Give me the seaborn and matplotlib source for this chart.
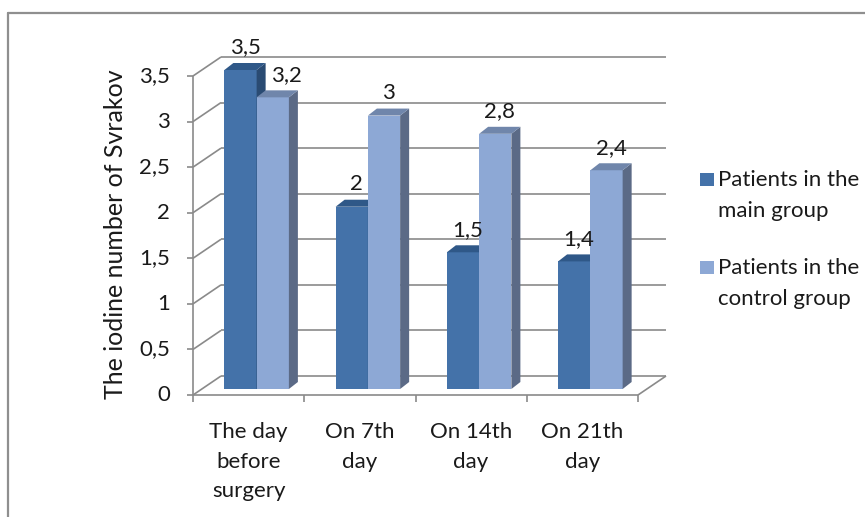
import numpy as np
import pandas as pd
import matplotlib.pyplot as plt
from matplotlib.patches import Polygon, Rectangle
from matplotlib.lines import Line2D
from matplotlib.transforms import IdentityTransform
import seaborn as sns

# Data
days = ['The day\nbefore\nsurgery', 'On 7th\nday', 'On 14th\nday', 'On 21th\nday']
groups = ['Patients in the\nmain group', 'Patients in the\ncontrol group']
main_group = [3.5, 2.0, 1.5, 1.4]
control_group = [3.2, 3.0, 2.8, 2.4]
yticks = [0, 0.5, 1, 1.5, 2, 2.5, 3, 3.5]

df = pd.DataFrame({
    'day': days * 2,
    'group': [groups[0]] * 4 + [groups[1]] * 4,
    'value': main_group + control_group,
})

front_col = ['#4472A9', '#8DA8D5']
side_col = ['#2A4B73', '#5B6A86']
top_col = ['#2F5888', '#7086AB']
grid_col = '#8A8A8A'
txt_col = '#1A1A1A'
fs = 16

sns.set_theme(style='white')
plt.rcParams['font.family'] = ['Lato', 'DejaVu Sans']

W, H = 865, 517
fig = plt.figure(figsize=(W / 100, H / 100), dpi=100)
ax = fig.add_axes([201 / W, 1 - 389 / H, 445 / W, 319 / H])
sns.barplot(data=df, x='day', y='value', hue='group', palette=front_col,
            width=0.58, saturation=1, legend=False, ax=ax, zorder=2)
ax.set_xlim(-0.5, 3.5)
ax.set_ylim(0, 3.5)
ax.axis('off')

ident = IdentityTransform()
front = np.array([-8, -6])   # front plane (axes) relative to bar plane, px
back = np.array([20, 13])    # back wall relative to bar plane, px
depth = np.array([9, 7])     # bar depth, px


def P(x, y, off=(0, 0)):
    return ax.transData.transform((x, y)) + np.asarray(off)


def seg(a, b, **kw):
    kw.setdefault('color', grid_col)
    kw.setdefault('lw', 1.2)
    kw.setdefault('zorder', 0)
    ax.add_line(Line2D([a[0], b[0]], [a[1], b[1]], transform=ident,
                       clip_on=False, solid_capstyle='butt', **kw))


# back wall grid + left wall diagonals
for v in yticks:
    seg(P(-0.5, v, back), P(3.5, v, back))
    seg(P(-0.5, v, front), P(-0.5, v, back))
# floor
seg(P(-0.5, 0, front), P(3.5, 0, front), zorder=4)
seg(P(3.5, 0, front), P(3.5, 0, back), zorder=4)
# front vertical axis
seg(P(-0.5, 0, front), P(-0.5, 3.5, front), zorder=4)

for v in yticks:
    a = P(-0.5, v, front)
    seg(a, a + [-6, 0], zorder=4)
    lab = f'{v:g}'.replace('.', ',')
    fig.text((a[0] - 23) / W, a[1] / H, lab, ha='right', va='center',
             fontsize=fs, color=txt_col)

for i in range(len(days) + 1):
    a = P(i - 0.5, 0, front)
    seg(a, a + [0, -7], zorder=4)

for i, d in enumerate(days):
    a = P(i, 0, front)
    fig.text(a[0] / W, (a[1] - 27) / H, d, ha='center', va='top',
             fontsize=fs, color=txt_col, linespacing=1.6)

# 3D faces on the bars
for k, cont in enumerate(ax.containers):
    for j, bar in enumerate(cont):
        bar.set_zorder(2 + k)
        bar.set_edgecolor('none')
        x0 = bar.get_x()
        x1 = x0 + bar.get_width()
        h = bar.get_height()
        side = [P(x1, 0), P(x1, h), P(x1, h, depth), P(x1, 0, depth)]
        top = [P(x0, h), P(x1, h), P(x1, h, depth), P(x0, h, depth)]
        ax.add_patch(Polygon(side, closed=True, transform=ident,
                             fc=side_col[k], ec='none', zorder=2 + k, clip_on=False))
        ax.add_patch(Polygon(top, closed=True, transform=ident,
                             fc=top_col[k], ec='none', zorder=2 + k, clip_on=False))
        c = P((x0 + x1) / 2, h, depth / 2)
        # control label pushed right when the main bar next to it is taller
        if k == 1 and main_group[j] > h:
            c = c + [9, 0]
        fig.text(c[0] / W, (c[1] + 9) / H, f'{h:g}'.replace('.', ','),
                 ha='center', va='bottom', fontsize=fs, color=txt_col)

fig.text(116 / W, 1 - 234 / H, 'The iodine number of Svrakov', rotation=90,
         ha='center', va='center', fontsize=18, color=txt_col)

# legend
for k, (g, y) in enumerate(zip(groups, [170, 258])):
    fig.patches.append(Rectangle((700 / W, 1 - (y + 16) / H), 14 / W, 13 / H,
                                 transform=fig.transFigure, fc=front_col[k],
                                 ec='none'))
    fig.text(718 / W, 1 - y / H, g, ha='left', va='top', fontsize=fs,
             color=txt_col, linespacing=1.7)

# outer frame
fig.add_artist(Line2D([8 / W, 8 / W], [0, 1 - 13 / H], color='#8F8F8F', lw=1.6))
fig.add_artist(Line2D([8 / W, 1], [1 - 13 / H, 1 - 13 / H], color='#8F8F8F', lw=1.6))

fig.savefig('out.png', dpi=100)
